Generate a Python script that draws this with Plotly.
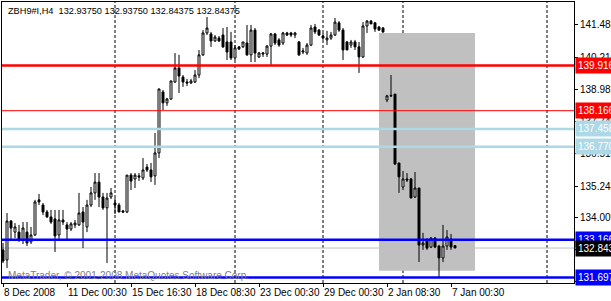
import plotly.graph_objects as go

# ---- data (H4 bars of ZBH9#I, indexed left to right) ----
opens = [132.77,132.38,133.89,133.46,133.46,133.15,133.46,133.08,133.35,134.71,
         134.51,134.24,134.05,133.97,133.35,133.93,133.74,133.58,133.74,133.74,
         134.24,133.66,134.51,134.98,135.40,134.82,134.40,134.82,134.59,134.51,
         134.28,134.24,135.67,135.52,135.64,135.56,135.98,135.87,135.64,136.53,
         138.89,138.47,138.62,139.28,139.82,139.47,139.28,139.24,139.28,139.55,
         140.33,141.18,141.14,140.87,140.98,141.10,140.83,140.83,140.21,140.64,
         140.64,140.79,140.33,141.29,140.25,140.36,140.36,140.67,141.14,140.91,
         140.79,141.18,141.18,141.10,140.83,140.44,140.40,140.71,141.41,141.29,
         141.06,140.91,140.98,141.10,141.57,141.29,140.83,140.71,140.83,140.64,
         140.25,141.45,141.64,141.57,141.41,141.37,138.58,138.76,138.81,136.14,
         135.21,135.52,135.52,134.82,135.17,132.96,133.15,132.88,133.23,132.92,
         132.46,132.92,133.19,132.9375]
highs = [133.04,134.20,133.93,133.81,133.74,133.85,133.85,133.66,134.71,134.94,
         134.59,134.32,134.32,134.32,134.32,134.32,133.85,133.85,133.93,134.98,
         134.43,134.71,135.21,135.75,135.75,134.98,134.98,135.17,134.78,134.59,
         134.32,135.67,135.75,135.75,135.75,136.33,136.10,136.14,137.30,139.01,
         138.97,138.66,139.32,140.40,140.33,139.55,139.40,139.40,139.74,140.52,
         141.29,141.80,141.22,141.10,141.06,141.37,141.41,141.22,140.71,140.67,
         140.83,141.49,141.49,141.37,140.44,140.44,140.71,141.18,141.18,140.98,
         141.22,141.22,141.22,141.22,140.87,140.60,140.79,141.49,141.53,141.33,
         141.18,141.26,141.22,141.76,141.64,141.37,140.87,140.91,140.91,140.83,
         141.60,141.68,141.68,141.60,141.45,141.41,138.78,139.55,138.81,136.14,
         135.83,135.75,135.56,135.79,135.17,133.43,133.23,133.27,133.27,132.96,
         133.74,133.54,133.39,132.9375]
lows = [132.26,132.07,133.15,133.23,133.08,133.00,132.92,133.00,133.31,134.51,
        134.12,134.01,133.78,132.69,133.15,133.74,133.15,133.50,133.62,133.70,
        132.84,133.46,134.43,134.71,134.43,134.32,132.26,134.74,134.16,134.24,
        134.20,134.20,135.09,135.17,135.44,135.48,135.79,135.40,135.29,136.33,
        138.19,138.35,138.58,139.24,138.85,139.09,139.12,139.20,139.24,139.43,
        140.29,141.10,140.64,140.83,140.83,140.60,140.13,140.13,140.13,140.52,
        140.60,140.29,140.05,140.05,140.21,140.25,140.25,139.94,140.71,140.64,
        140.71,141.06,141.02,140.98,140.29,140.36,140.33,140.67,141.14,141.06,
        140.91,140.71,140.91,141.06,141.22,140.13,140.52,140.60,140.52,139.63,
        140.21,141.18,141.53,141.22,141.26,141.18,138.50,138.70,136.06,134.98,
        135.09,135.40,134.78,134.78,132.30,132.77,132.77,132.84,132.84,131.72,
        132.30,132.77,132.77,132.84375]
closes = [132.34,133.89,133.62,133.66,133.15,133.62,133.04,133.35,134.63,134.63,
          134.24,134.05,133.85,133.31,133.93,133.85,133.58,133.78,133.81,134.20,
          133.85,134.51,134.98,135.40,134.82,134.40,134.78,134.98,134.51,134.24,
          134.24,135.67,135.44,135.67,135.60,135.87,135.87,135.60,136.53,139.01,
          138.47,138.62,139.32,139.82,139.51,139.28,139.24,139.32,139.55,140.33,
          141.18,141.37,140.87,141.02,140.87,140.64,140.44,140.21,140.60,140.56,
          140.83,140.33,141.29,140.40,140.40,140.40,140.67,141.14,140.79,140.71,
          141.18,141.10,141.10,141.18,140.33,140.48,140.71,141.37,141.22,141.10,
          140.98,140.98,141.10,141.60,141.29,140.52,140.52,140.83,140.64,140.25,
          141.45,141.64,141.53,141.33,141.29,141.22,138.74,138.74,136.10,135.60,
          135.52,135.48,134.78,135.17,132.96,133.04,132.84,133.23,132.88,132.46,
          132.92,133.27,132.88,132.84375]

x_tick_index = [0, 16, 32, 48, 64, 80, 96, 112]
x_tick_text = ["8 Dec 2008", "11 Dec 00:30", "15 Dec 16:30", "18 Dec 08:30",
               "23 Dec 00:30", "29 Dec 00:30", "2 Jan 08:30", "7 Jan 00:30"]
week_separators = [28, 58, 80, 100, 136]

y_tick_vals = [141.488, 140.216, 138.982, 137.749, 136.515, 135.243, 134.009, 132.775, 131.541]
y_tick_hidden = [132.775, 131.541]   # covered by the level labels in the reference
y_range = [131.488, 142.379]
x_range = [-0.25, 142.75]

# horizontal level lines: (price, colour, width)
level_prices = [139.916, 138.166, 137.458, 136.770, 133.166, 131.697]
level_colors = ["#FF0000", "#FF0000", "#ADD8E6", "#ADD8E6", "#0000FF", "#0000FF"]
level_widths = [2.5, 1, 2.5, 2.5, 2.5, 2.5]
bid_price = 132.843

# grey rectangle object (bar index / price corners)
rect_x = [94, 118]
rect_y = [131.96, 141.18]

header = "ZBH9#I,H4  132.93750 132.93750 132.84375 132.84375"
watermark = "MetaTrader, © 2001-2008 MetaQuotes Software Corp."

FONT = "Liberation Sans, Arial, sans-serif"
FS = 10

xs = list(range(len(opens)))
fig = go.Figure()
fig.add_trace(go.Candlestick(
    x=xs, open=opens, high=highs, low=lows, close=closes,
    increasing=dict(line=dict(color="black", width=1), fillcolor="white"),
    decreasing=dict(line=dict(color="black", width=1), fillcolor="black"),
    whiskerwidth=0, hoverinfo="skip", showlegend=False))

shapes = []
shapes.append(dict(type="rect", xref="x", yref="y", x0=rect_x[0], x1=rect_x[1],
                   y0=rect_y[0], y1=rect_y[1], fillcolor="#C0C0C0",
                   line=dict(width=0), layer="below"))
for s in week_separators:
    shapes.append(dict(type="line", xref="x", yref="paper", x0=s, x1=s, y0=0, y1=1,
                       line=dict(color="black", width=1, dash="3px,2px"), layer="below"))
shapes.append(dict(type="line", xref="paper", yref="y", x0=0, x1=1, y0=bid_price, y1=bid_price,
                   line=dict(color="#C0C0C0", width=1), layer="below"))
for p, c, w in zip(level_prices, level_colors, level_widths):
    shapes.append(dict(type="line", xref="paper", yref="y", x0=0, x1=1, y0=p, y1=p,
                       line=dict(color=c, width=w), layer="above"))

annotations = []
label_prices = level_prices[:5] + [bid_price] + level_prices[5:]
label_colors = level_colors[:5] + ["black"] + level_colors[5:]
for p, c in zip(label_prices, label_colors):
    annotations.append(dict(xref="paper", yref="y", x=1, y=p, xanchor="left", yanchor="middle",
                            xshift=1, text=f"{p:.3f}", showarrow=False, bgcolor=c,
                            borderpad=2, font=dict(family=FONT, size=FS, color="white")))
annotations.append(dict(xref="paper", yref="paper", x=0, y=1, xanchor="left", yanchor="top",
                        xshift=4, yshift=-2, text=header, showarrow=False,
                        font=dict(family=FONT, size=9.2, color="black")))
annotations.append(dict(xref="paper", yref="paper", x=0, y=0, xanchor="left", yanchor="bottom",
                        xshift=4, yshift=0, text=watermark, showarrow=False,
                        font=dict(family=FONT, size=FS, color="#808080")))

fig.update_layout(
    width=611, height=301,
    margin=dict(l=2, r=37, t=2, b=18),
    paper_bgcolor="white", plot_bgcolor="white",
    shapes=shapes, annotations=annotations,
    xaxis=dict(range=x_range, tickmode="array", tickvals=x_tick_index, ticktext=x_tick_text,
               ticks="outside", ticklen=3, tickcolor="black", ticklabelposition="outside right",
               tickangle=0, automargin=False,
               showgrid=False, zeroline=False, showline=True, linecolor="black", linewidth=1,
               mirror=True, rangeslider=dict(visible=False), fixedrange=True,
               tickfont=dict(family=FONT, size=FS, color="black")),
    yaxis=dict(range=y_range, side="right", tickmode="array", tickvals=y_tick_vals,
               ticktext=["" if v in y_tick_hidden else f"{v:.3f}" for v in y_tick_vals],
               ticks="outside", ticklen=3, automargin=False,
               tickcolor="black", showgrid=False, zeroline=False, showline=True,
               linecolor="black", linewidth=1, mirror=True,
               tickfont=dict(family=FONT, size=FS, color="black")),
    font=dict(family=FONT, size=FS),
)

fig.write_html("out.html")
